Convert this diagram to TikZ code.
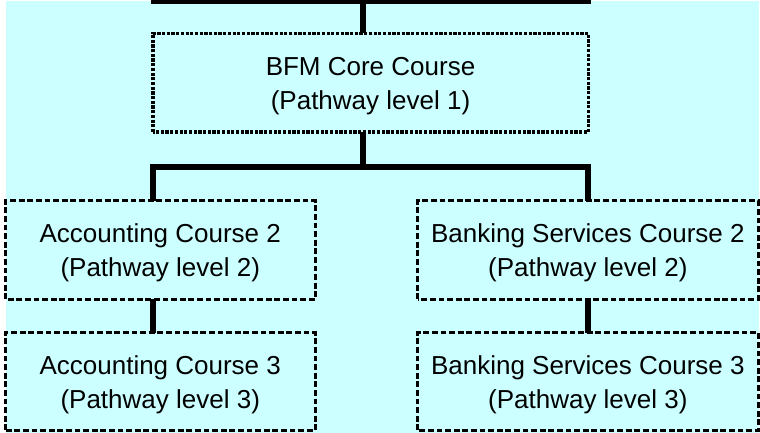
\documentclass[tikz,border=0pt]{standalone}
\usepackage{fontspec}
\setmainfont{Liberation Sans}
\definecolor{bgcyan}{RGB}{204,255,255}
\begin{document}
\begin{tikzpicture}[x=1pt,y=-1pt,
  conn/.style={line width=5.6pt,line join=miter,line cap=butt},
  basebox/.style={rectangle,fill=bgcyan,inner sep=0pt,align=center,
    font=\fontsize{26}{34}\selectfont,text height=53pt,text depth=0pt},
  dotline/.style={line width=3.4pt,dash pattern=on 3.2pt off 1.5pt},
  dashline/.style={line width=3pt,dash pattern=on 5.8pt off 2.8pt}]
\useasboundingbox (0,0) rectangle (760,433);
\fill[white] (0,0) rectangle (760,433);
\fill[bgcyan] (6,1) rectangle (759,433);
\coordinate (topL) at (150.5,0.8);
\coordinate (topR) at (590.5,0.8);
\coordinate (s) at (362.7,0.8);
\coordinate (j) at (362.7,167);
\coordinate (bl) at (153,167);
\coordinate (br) at (588,167);
\node[basebox,minimum width=435pt,minimum height=98.5pt] (core) at (370.5,82.75) {BFM Core Course\\(Pathway level 1)};
\node[basebox,minimum width=309.5pt,minimum height=98pt] (acc2) at (160.25,250) {Accounting Course 2\\(Pathway level 2)};
\node[basebox,minimum width=309.5pt,minimum height=97pt] (acc3) at (160.25,381.5) {Accounting Course 3\\(Pathway level 3)};
\node[basebox,minimum width=340.3pt,minimum height=98pt] (bank2) at (587.85,250) {Banking Services Course 2\\(Pathway level 2)};
\node[basebox,minimum width=340.3pt,minimum height=97pt] (bank3) at (587.85,381.5) {Banking Services Course 3\\(Pathway level 3)};
\draw[conn] (topL) -- (topR);
\draw[conn] (s) -- (s |- core.north);
\draw[conn] (core.south -| j) -- (j);
\draw[conn] (bl |- acc2.north) -- (bl) -- (br) -- (br |- bank2.north);
\draw[conn] (acc2.south -| bl) -- (acc3.north -| bl);
\draw[conn] (bank2.south -| br) -- (bank3.north -| br);
% box borders, drawn over the connector ends
\draw[dotline] (core.south west) rectangle (core.north east);
\draw[dashline] (acc2.south west) rectangle (acc2.north east);
\draw[dashline] (acc3.south west) rectangle (acc3.north east);
\draw[dashline] (bank2.south west) rectangle (bank2.north east);
\draw[dashline] (bank3.south west) rectangle (bank3.north east);
\end{tikzpicture}
\end{document}
